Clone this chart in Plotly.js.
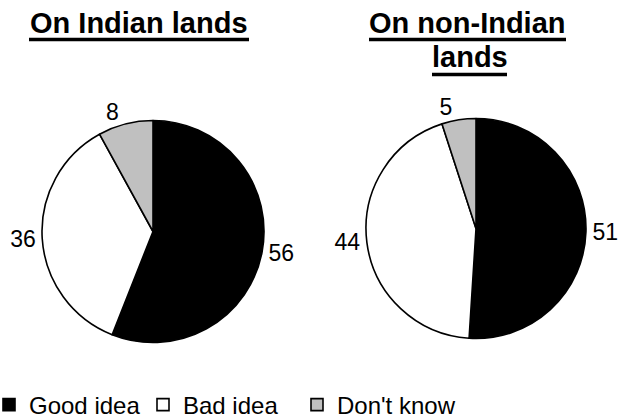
<!DOCTYPE html>
<html>
<head>
<meta charset="utf-8">
<script src="https://cdn.plot.ly/plotly-3.0.1.min.js"></script>
<style>html,body{margin:0;padding:0;background:#fff;}#chart{width:619px;height:418px;}</style>
</head>
<body>
<div id="chart"></div>
<script>
// ---- data ----
var categories = ["Good idea", "Bad idea", "Don't know"];
var indianLands = [56, 36, 8];
var nonIndianLands = [51, 44, 5];
var pieTitles = ["On Indian lands", "On non-Indian", "lands"];
var sliceColors = ["#000000", "#ffffff", "#c0c0c0"];

var W = 619, H = 418;
function fx(px) { return px / W; }
function fy(py) { return 1 - py / H; }

var FONT = '"Liberation Sans", Arial, Helvetica, sans-serif';

function pieTrace(values, x0, x1, y0, y1, name) {
  return {
    type: 'pie',
    name: name,
    labels: categories,
    values: values,
    sort: false,
    direction: 'clockwise',
    rotation: 0,
    marker: { colors: sliceColors, line: { color: '#000000', width: 1.6 } },
    textinfo: 'value',
    textposition: 'outside',
    outsidetextfont: { family: FONT, size: 23, color: '#000000' },
    hoverinfo: 'label+value',
    automargin: false,
    domain: { x: [fx(x0), fx(x1)], y: [fy(y1), fy(y0)] }
  };
}

var data = [
  pieTrace(indianLands, 42, 264, 120, 343, 'On Indian lands'),
  pieTrace(nonIndianLands, 366, 586, 118.5, 338.5, 'On non-Indian lands')
];

function titleAnn(text, cx, cy) {
  return { text: '<b>' + text + '</b>', x: fx(cx), y: fy(cy), xref: 'paper', yref: 'paper',
    xanchor: 'center', yanchor: 'middle', showarrow: false,
    font: { family: FONT, size: 29, color: '#000' } };
}
function underline(x0, x1, y) {
  return { type: 'line', xref: 'paper', yref: 'paper', x0: fx(x0), x1: fx(x1), y0: fy(y), y1: fy(y),
    line: { color: '#000', width: 3.5 } };
}

var layout = {
  width: W, height: H,
  margin: { l: 0, r: 0, t: 0, b: 0, autoexpand: false },
  paper_bgcolor: '#ffffff',
  plot_bgcolor: '#ffffff',
  font: { family: FONT, color: '#000000' },
  showlegend: true,
  legend: {
    orientation: 'h',
    x: 0, xanchor: 'left',
    y: fy(405), yanchor: 'middle',
    indentation: -11,
    entrywidth: 120,
    font: { family: FONT, size: 24, color: '#000000' },
    bgcolor: 'rgba(0,0,0,0)'
  },
  annotations: [
    titleAnn(pieTitles[0], 139, 23),
    titleAnn(pieTitles[1], 467.5, 23),
    titleAnn(pieTitles[2], 469.5, 57)
  ],
  shapes: [
    underline(29, 249, 39.5),
    underline(369, 566, 39.5),
    underline(432, 507, 74.5)
  ]
};

Plotly.newPlot('chart', data, layout, { displayModeBar: false, staticPlot: true });
</script>
</body>
</html>
